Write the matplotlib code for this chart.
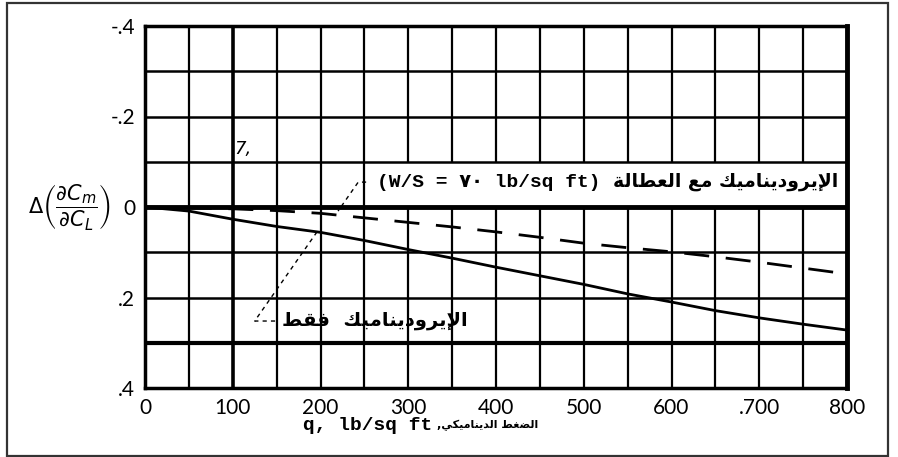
import matplotlib
matplotlib.use("Agg")
import matplotlib.pyplot as plt
from matplotlib.patches import Rectangle

# --- data ---
q = [0, 50, 100, 150, 200, 250, 300, 350, 400, 450, 500, 550, 600, 650, 700, 750, 800]
aero_only = [0, 0.009, 0.027, 0.043, 0.056, 0.074, 0.094, 0.113, 0.133, 0.152, 0.171, 0.192,
             0.21, 0.229, 0.245, 0.259, 0.272]
aero_inertia = [0, 0.002, 0.004, 0.008, 0.014, 0.024, 0.034, 0.044, 0.055, 0.067, 0.08, 0.09,
                0.099, 0.11, 0.122, 0.135, 0.148]

x_ticks = [0, 100, 200, 300, 400, 500, 600, 700, 800]
x_labels = ["0", "100", "200", "300", "400", "500", "600", ".700", "800"]
y_ticks = [-0.4, -0.2, 0, 0.2, 0.4]
y_labels = ["-.4", "-.2", "0", ".2", ".4"]

# Arabic words written in visual (left-to-right) order with presentation forms,
# since matplotlib does no shaping or bidi
w_aero = "\uFEDA\uFEF4\uFEE3\uFE8E\uFEE8\uFEF3\uFEA9\uFEED\uFEAE\uFEF3\uFEF9\uFE8D"  # الإيروديناميك
w_with = "\uFECA\uFEE3"                                                              # مع
w_inertia = "\uFE94\uFEDF\uFE8E\uFEC4\uFECC\uFEDF\uFE8D"                             # العطالة
w_only = "\uFEC2\uFED8\uFED3"                                                        # فقط
w_press = "\uFEC2\uFED0\uFEC0\uFEDF\uFE8D"                                           # الضغط
w_dyn = "\uFEF2\uFEDC\uFEF4\uFEE3\uFE8E\uFEE8\uFEF3\uFEAA\uFEDF\uFE8D"               # الديناميكي

ws_latin = "(W/S = \u0667\u0660 lb/sq ft)"
ws_arabic = w_inertia + " " + w_with + " " + w_aero
label_only = w_only + "  " + w_aero
x_title_latin = "q, lb/sq ft"
x_title_arabic = "," + w_dyn + " " + w_press

plt.rcParams["mathtext.fontset"] = "dejavusans"
mono_fam = ["Liberation Mono", "DejaVu Sans"]
ar_fam = ["DejaVu Sans"]

fig = plt.figure(figsize=(8.98, 4.57), dpi=100)
ax = fig.add_axes([145 / 898, 69 / 457, 702 / 898, 362 / 457])

ax.set_xlim(0, 800)
ax.set_ylim(0.4, -0.4)

# grid drawn by hand so the label box can sit between verticals and horizontals
for xv in range(50, 800, 50):
    ax.axvline(xv, color="black", lw=2.6 if xv == 100 else 1.6, zorder=1)
for yv in [-0.3, -0.2, -0.1, 0.0, 0.1, 0.2, 0.3]:
    lw = 1.8
    if yv == 0.0:
        lw = 3.5
    elif yv == 0.3:
        lw = 3.0
    ax.axhline(yv, color="black", lw=lw, zorder=3)

ax.add_patch(Rectangle((256, -0.1), 544, 0.1, facecolor="white", edgecolor="none", zorder=2))

ax.plot(q, aero_only, color="black", lw=2, zorder=4)
ax.plot(q, aero_inertia, color="black", lw=2, dashes=(9, 6), zorder=4)

# leader lines
ax.plot([252, 243, 220], [-0.055, -0.055, 0.009], color="black", lw=1, dashes=(3, 3), zorder=4)
ax.plot([196, 125, 150], [0.055, 0.252, 0.252], color="black", lw=1, dashes=(3, 3), zorder=4)

ax.text(264, -0.055, ws_latin, family=mono_fam, fontweight="bold", fontsize=14,
        ha="left", va="center", zorder=5)
ax.text(800 - 9 / 0.8775, -0.057, ws_arabic, family=ar_fam, fontweight="bold", fontsize=13.5,
        ha="right", va="center", zorder=5)
ax.text(156, 0.25, label_only, family=ar_fam, fontweight="bold", fontsize=14,
        ha="left", va="center", zorder=5)
ax.text(112, -0.128, "7,", style="italic", fontsize=13, ha="center", va="center", zorder=5)

ax.set_xticks(x_ticks)
ax.set_xticklabels(x_labels)
ax.set_yticks(y_ticks)
ax.set_yticklabels(y_labels)
ax.tick_params(length=0, labelsize=15, pad=7, colors="black")
for lab in ax.get_xticklabels() + ax.get_yticklabels():
    lab.set_family("Lato")

for side in ["left", "top", "bottom"]:
    ax.spines[side].set_linewidth(2.5)
ax.spines["right"].set_linewidth(3.5)

fig.text(28 / 898, (457 - 207) / 457, r"$\Delta\left(\dfrac{\partial C_m}{\partial C_L}\right)$",
         fontsize=15, ha="left", va="center")
fig.text(303 / 898, (457 - 425) / 457, x_title_latin, family=mono_fam, fontweight="bold",
         fontsize=14, ha="left", va="center")
fig.text(437 / 898, (457 - 425) / 457, x_title_arabic, family=ar_fam, fontweight="bold",
         fontsize=8, ha="left", va="center")

fig.patches.append(Rectangle((7 / 898, 1 / 457), 881 / 898, 453 / 457, transform=fig.transFigure,
                             fill=False, edgecolor="#333333", lw=1.6))

fig.savefig("out.png", dpi=100)
